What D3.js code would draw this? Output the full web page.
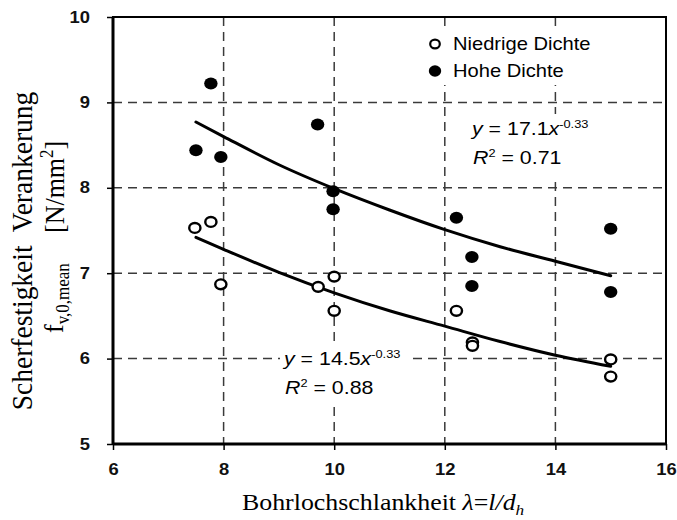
<!DOCTYPE html>
<html><head><meta charset="utf-8">
<script src="https://cdn.jsdelivr.net/npm/d3@7"></script>
<style>body{margin:0;background:#fff}svg{display:block}</style>
</head><body>
<svg id="c" width="677" height="520"></svg>
<script>
// ---- data ----
const niedrigX = [7.48, 7.77, 7.95, 9.71, 10.0, 10.0, 12.21, 12.5, 12.5, 15.0, 15.0];
const niedrigY = [7.53, 7.60, 6.87, 6.84, 6.96, 6.56, 6.56, 6.19, 6.15, 5.99, 5.79];
const hoheX    = [7.77, 7.50, 7.95, 9.70, 9.98, 9.98, 12.21, 12.49, 12.49, 15.0, 15.0];
const hoheY    = [9.22, 8.44, 8.36, 8.74, 7.96, 7.75, 7.65, 7.19, 6.85, 7.52, 6.78];
const trendX      = [7.5, 8, 9, 10, 11, 12, 13, 14, 15];
const hoheTrend   = [8.77, 8.60, 8.27, 7.99, 7.74, 7.51, 7.31, 7.14, 6.97];
const niedrigTrend= [7.42, 7.28, 7.01, 6.77, 6.56, 6.38, 6.20, 6.04, 5.91];
const xTicks = [6, 8, 10, 12, 14, 16];
const yTicks = [5, 6, 7, 8, 9, 10];
const xGrid = [8, 10, 12, 14];
const yGrid = [6, 7, 8, 9];
const legendLabels = ["Niedrige Dichte", "Hohe Dichte"];

const W = 677, H = 520;
const m = {left: 113, top: 17, right: 11, bottom: 76};
const svg = d3.select("#c");
const x = d3.scaleLinear().domain([6, 16]).range([m.left, W - m.right]);
const y = d3.scaleLinear().domain([5, 10]).range([H - m.bottom, m.top]);
const SX = 1.15;
const sans = "'Liberation Sans', Arial, sans-serif";
const serif = "'Liberation Serif', 'Times New Roman', serif";

// grid
const grid = svg.append("g").attr("stroke", "#3a3a3a").attr("stroke-width", 1.5).attr("stroke-dasharray", "9,6");
grid.selectAll(".gx").data(xGrid).join("line")
  .attr("x1", d => x(d)).attr("x2", d => x(d)).attr("y1", y(10)).attr("y2", y(5));
grid.selectAll(".gy").data(yGrid).join("line")
  .attr("x1", x(6)).attr("x2", x(16)).attr("y1", d => y(d)).attr("y2", d => y(d));

// axes
const fmt = d3.format("d");
const xa = svg.append("g").attr("transform", `translate(0,${y(5)})`)
  .call(d3.axisBottom(x).tickValues(xTicks).tickFormat(fmt).tickSize(6).tickSizeOuter(0).tickPadding(14));
xa.select(".domain").remove();
xa.selectAll("line").attr("stroke", "#000").attr("stroke-width", 1.5);
xa.selectAll("text").attr("font-family", sans).attr("font-size", 16).attr("font-weight", "bold")
  .attr("fill", "#111").attr("transform", `scale(${SX},1)`);

const ya = svg.append("g").attr("transform", `translate(${x(6)},0)`)
  .call(d3.axisLeft(y).tickValues(yTicks).tickFormat(fmt).tickSize(6).tickSizeOuter(0).tickPadding(14));
ya.select(".domain").remove();
ya.selectAll("line").attr("stroke", "#000").attr("stroke-width", 1.5);
ya.selectAll("text").attr("font-family", sans).attr("font-size", 16).attr("font-weight", "bold")
  .attr("fill", "#111").attr("transform", `scale(${SX},1)`);

// white boxes behind legend and equations (cover gridlines)
svg.append("rect").attr("x", 424).attr("y", 30).attr("width", 178).attr("height", 55).attr("fill", "#fff");
svg.append("rect").attr("x", 466).attr("y", 114).attr("width", 134).attr("height", 66).attr("fill", "#fff");
svg.append("rect").attr("x", 280).attr("y", 344).attr("width", 133).attr("height", 58).attr("fill", "#fff");

// frame
svg.append("rect").attr("x", x(6)).attr("y", y(10)).attr("width", x(16) - x(6)).attr("height", y(5) - y(10))
  .attr("fill", "none").attr("stroke", "#000").attr("stroke-width", 2);
svg.append("line").attr("x1", x(6)).attr("x2", x(6)).attr("y1", y(10)).attr("y2", y(5)).attr("stroke", "#000").attr("stroke-width", 3);
svg.append("line").attr("x1", x(6)).attr("x2", x(16)).attr("y1", y(5)).attr("y2", y(5)).attr("stroke", "#000").attr("stroke-width", 3);

// trend lines
const line = d3.line().x(d => x(d[0])).y(d => y(d[1])).curve(d3.curveMonotoneX);
svg.append("path").datum(trendX.map((v, i) => [v, hoheTrend[i]])).attr("d", line)
  .attr("fill", "none").attr("stroke", "#000").attr("stroke-width", 3).attr("stroke-linecap", "round");
svg.append("path").datum(trendX.map((v, i) => [v, niedrigTrend[i]])).attr("d", line)
  .attr("fill", "none").attr("stroke", "#000").attr("stroke-width", 3).attr("stroke-linecap", "round");

// points
svg.append("g").selectAll("ellipse").data(hoheX.map((v, i) => [v, hoheY[i]])).join("ellipse")
  .attr("cx", d => x(d[0])).attr("cy", d => y(d[1])).attr("rx", 6.7).attr("ry", 6).attr("fill", "#000");
svg.append("g").selectAll("ellipse").data(niedrigX.map((v, i) => [v, niedrigY[i]])).join("ellipse")
  .attr("cx", d => x(d[0])).attr("cy", d => y(d[1])).attr("rx", 5.6).attr("ry", 4.9)
  .attr("fill", "#fff").attr("stroke", "#000").attr("stroke-width", 2.4);

// helper for stretched text
function txt(px, py, opts) {
  return svg.append("text").attr("transform", `translate(${px},${py}) scale(${opts.sx || SX},1)${opts.rot ? " rotate(" + opts.rot + ")" : ""}`)
    .attr("font-family", opts.family || sans).attr("font-size", opts.size || 16)
    .attr("text-anchor", opts.anchor || "start").attr("fill", "#000");
}

// legend
svg.append("ellipse").attr("cx", 435).attr("cy", 44).attr("rx", 4.8).attr("ry", 4.4)
  .attr("fill", "#fff").attr("stroke", "#000").attr("stroke-width", 2.2);
svg.append("ellipse").attr("cx", 435).attr("cy", 71).attr("rx", 6.2).attr("ry", 5.8).attr("fill", "#000");
txt(453, 50, {size: 17.5}).text(legendLabels[0]);
txt(453, 77, {size: 17.5}).text(legendLabels[1]);

// equations
function eq(px, py, a, r2) {
  const t = txt(px, py, {size: 17.5, sx: 1.22});
  t.append("tspan").attr("font-style", "italic").text("y");
  t.append("tspan").text(" = " + a);
  t.append("tspan").attr("font-style", "italic").text("x");
  t.append("tspan").attr("font-size", 10.5).attr("dy", -7).text("-0.33");
  const r = txt(px + 1, py + 29, {size: 17.5, sx: 1.22});
  r.append("tspan").attr("font-style", "italic").text("R");
  r.append("tspan").attr("font-size", 10.5).attr("dy", -7).text("2");
  r.append("tspan").attr("dy", 7).text(" = " + r2);
}
eq(472, 135, "17.1", "0.71");
eq(284, 365, "14.5", "0.88");

// x axis title
const xt = txt(242, 510, {family: serif, size: 22.5});
xt.append("tspan").text("Bohrlochschlankheit ");
xt.append("tspan").attr("font-style", "italic").text("λ");
xt.append("tspan").text("=");
xt.append("tspan").attr("font-style", "italic").text("l/d");
xt.append("tspan").attr("font-style", "italic").attr("font-size", 15).attr("dy", 5).text("h");

// y axis title
txt(32, 251, {family: serif, size: 27.5, anchor: "middle", rot: -90, sx: 1.08}).text("Scherfestigkeit\u00a0 Verankerung");
const f = txt(63, 333, {family: serif, size: 26, rot: -90, sx: 1.08});
f.append("tspan").text("f");
f.append("tspan").attr("font-size", 17).attr("dy", 6).text("v,0,mean");
const nm = txt(64, 233, {family: serif, size: 26, rot: -90, sx: 1.08});
nm.append("tspan").text("[N/mm");
nm.append("tspan").attr("font-size", 17).attr("dy", -10).text("2");
nm.append("tspan").attr("dy", 10).text("]");
</script>
</body></html>
